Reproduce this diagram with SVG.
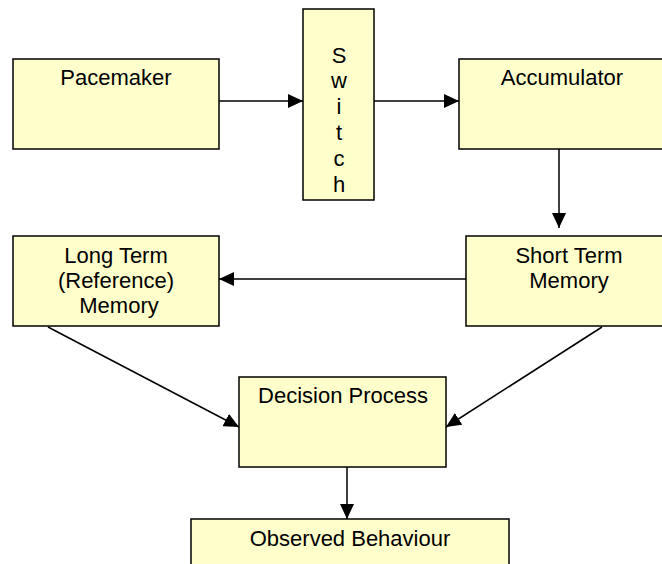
<svg xmlns="http://www.w3.org/2000/svg" width="662" height="564" viewBox="0 0 662 564">
<defs>
<style>
.box{fill:#FFFFCC;stroke:#000;stroke-width:1.5}
.t{font-family:"Liberation Sans",Arial,sans-serif;font-size:22px;fill:#000;text-anchor:middle}
.c{stroke:#000;stroke-width:1.5;fill:none}
</style>
<marker id="ah" viewBox="0 0 15 14" refX="15" refY="7" markerWidth="15" markerHeight="14" markerUnits="userSpaceOnUse" orient="auto">
<path d="M0,0 L15,7 L0,14 Z" fill="#000"/>
</marker>
</defs>
<rect width="662" height="564" fill="#fff"/>
<g id="connectors">
<line class="c" x1="219" y1="101" x2="303" y2="101" marker-end="url(#ah)"/>
<line class="c" x1="374" y1="101" x2="459" y2="101" marker-end="url(#ah)"/>
<line class="c" x1="559" y1="149" x2="559" y2="228" marker-end="url(#ah)"/>
<line class="c" x1="466" y1="279" x2="219" y2="279" marker-end="url(#ah)"/>
<line class="c" x1="48" y1="327" x2="239" y2="427" marker-end="url(#ah)"/>
<line class="c" x1="602" y1="327" x2="446" y2="427" marker-end="url(#ah)"/>
<line class="c" x1="347" y1="467" x2="347" y2="519" marker-end="url(#ah)"/>
</g>
<g id="pacemaker">
<rect class="box" x="13" y="59" width="206" height="90"/>
<text class="t" x="116" y="85">Pacemaker</text>
</g>
<g id="switch">
<rect class="box" x="303" y="9" width="71" height="191"/>
<text class="t" x="339"><tspan x="339" y="63">S</tspan><tspan x="339" y="88">w</tspan><tspan x="339" y="114">i</tspan><tspan x="339" y="140">t</tspan><tspan x="339" y="166">c</tspan><tspan x="339" y="192">h</tspan></text>
</g>
<g id="accumulator">
<rect class="box" x="459" y="59" width="210" height="90"/>
<text class="t" x="562" y="85">Accumulator</text>
</g>
<g id="short-term-memory">
<rect class="box" x="466" y="236" width="210" height="90"/>
<text class="t" x="569" y="263">Short Term</text>
<text class="t" x="569" y="288">Memory</text>
</g>
<g id="long-term-memory">
<rect class="box" x="13" y="236" width="206" height="90"/>
<text class="t" x="116" y="263">Long Term</text>
<text class="t" x="116" y="288">(Reference)</text>
<text class="t" x="119" y="313">Memory</text>
</g>
<g id="decision-process">
<rect class="box" x="239" y="377" width="207" height="90"/>
<text class="t" x="343" y="403">Decision Process</text>
</g>
<g id="observed-behaviour">
<rect class="box" x="191" y="519" width="318" height="60"/>
<text class="t" x="350" y="546">Observed Behaviour</text>
</g>
</svg>
